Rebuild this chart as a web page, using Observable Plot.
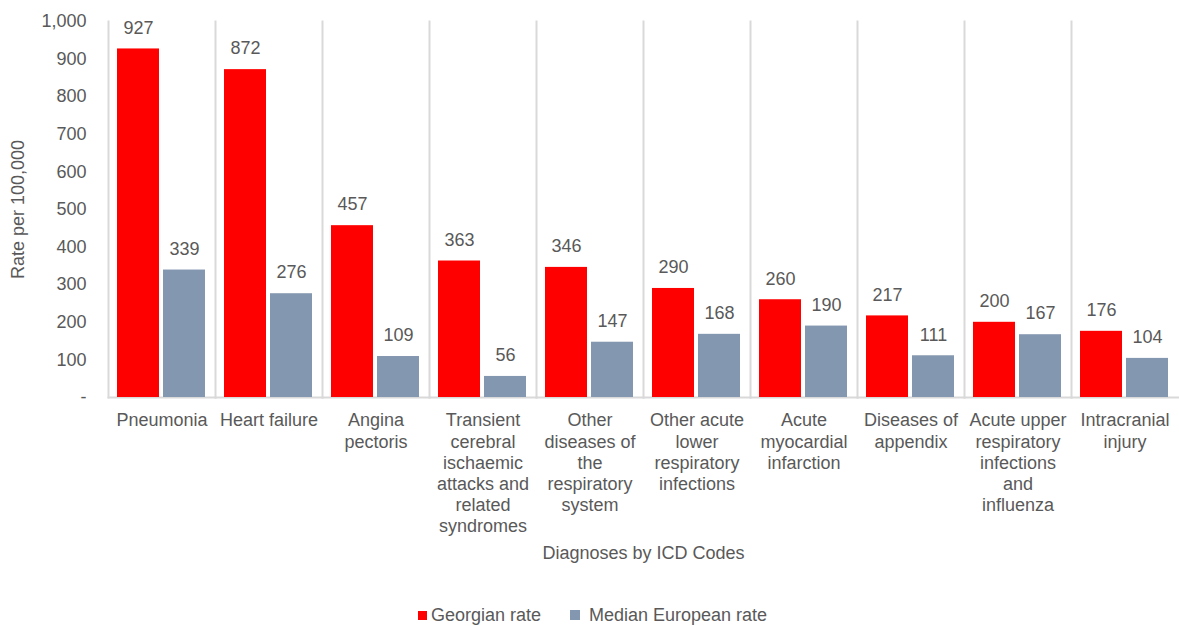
<!DOCTYPE html>
<html>
<head>
<meta charset="utf-8">
<script src="https://cdn.jsdelivr.net/npm/d3@7"></script>
<script src="https://cdn.jsdelivr.net/npm/@observablehq/plot@0.6"></script>
<style>
  body { margin: 0; background: #fff; font-family: "Liberation Sans", Arial, sans-serif; }
  #chart svg { display: block; }
  .legend { display: flex; justify-content: center; align-items: center; font-size: 18px; color: #595959; height: 50px; padding-left: 6px; }
  .legend .item { display: flex; align-items: center; }
  .legend .sw { display: inline-block; }
</style>
</head>
<body>
<div id="chart"></div>
<div class="legend">
  <div class="item"><span class="sw" style="background:#FF0000;width:9px;height:9px;margin-right:4px"></span>Georgian rate</div>
  <div class="item" style="margin-left:29px"><span class="sw" style="background:#8497B0;width:10px;height:10px;margin-right:9px"></span>Median European rate</div>
</div>
<script>
const categories = [
  "Pneumonia",
  "Heart failure",
  "Angina\npectoris",
  "Transient\ncerebral\nischaemic\nattacks and\nrelated\nsyndromes",
  "Other\ndiseases of\nthe\nrespiratory\nsystem",
  "Other acute\nlower\nrespiratory\ninfections",
  "Acute\nmyocardial\ninfarction",
  "Diseases of\nappendix",
  "Acute upper\nrespiratory\ninfections\nand\ninfluenza",
  "Intracranial\ninjury"
];
const seriesNames = ["Georgian rate", "Median European rate"];
const georgianRate = [927, 872, 457, 363, 346, 290, 260, 217, 200, 176];
const europeanRate = [339, 276, 109, 56, 147, 168, 190, 111, 167, 104];
const yTicks = [0, 100, 200, 300, 400, 500, 600, 700, 800, 900, 1000];
const colors = ["#FF0000", "#8497B0"];

const data = categories.flatMap((c, i) => [
  {category: c, series: seriesNames[0], value: georgianRate[i]},
  {category: c, series: seriesNames[1], value: europeanRate[i]}
]);

const textColor = "#595959";
const gridColor = "#D9D9D9";

const chart = Plot.plot({
  width: 1179,
  height: 590,
  marginTop: 21,
  marginLeft: 108,
  marginRight: 1,
  marginBottom: 193,
  style: {fontFamily: "'Liberation Sans', Arial, sans-serif", fontSize: "18px", color: textColor, background: "#fff"},
  fx: {domain: categories, padding: 0},
  x: {domain: seriesNames, paddingInner: 0.086, paddingOuter: 0.2},
  y: {domain: [0, 1000]},
  color: {domain: seriesNames, range: colors},
  marks: [
    Plot.frame({anchor: "left", stroke: gridColor, strokeWidth: 2, strokeOpacity: 1}),
    Plot.frame({anchor: "bottom", stroke: gridColor, strokeWidth: 2, strokeOpacity: 1}),
    Plot.barY(data, {fx: "category", x: "series", y: "value", fill: "series"}),
    Plot.text(data, {fx: "category", x: "series", y: "value", text: d => String(d.value), dy: -21, fill: textColor, fontSize: 18}),
    Plot.axisY({
      ticks: yTicks,
      tickSize: 0,
      tickPadding: 22,
      tickFormat: d => d === 0 ? "-" : d3.format(",")(d),
      fontSize: 18,
      fill: textColor,
      label: "Rate per 100,000",
      labelAnchor: "center",
      labelArrow: "none",
      labelOffset: 97
    }),
    Plot.axisFx({
      anchor: "bottom",
      tickSize: 0,
      tickPadding: 14,
      lineAnchor: "top",
      lineHeight: 1.17,
      fontSize: 18,
      fill: textColor,
      textOverflow: null,
      label: "Diagnoses by ICD Codes",
      labelAnchor: "center",
      labelArrow: "none",
      labelOffset: 161
    }),
    Plot.axisX({ticks: [], label: null})
  ]
});
document.getElementById("chart").appendChild(chart);
</script>
</body>
</html>
